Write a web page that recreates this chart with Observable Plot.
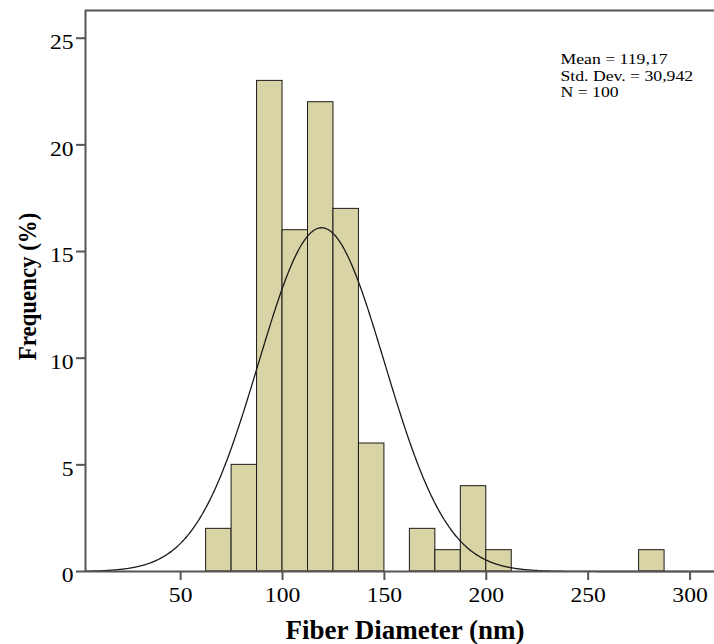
<!DOCTYPE html>
<html>
<head>
<meta charset="utf-8">
<script src="https://cdn.jsdelivr.net/npm/d3@7"></script>
<script src="https://cdn.jsdelivr.net/npm/@observablehq/plot@0.6"></script>
<style>
  html, body { margin: 0; padding: 0; background: #fff; }
  #chart svg { display: block; }
</style>
</head>
<body>
<div id="chart"></div>
<script>
// Histogram bins (lower edges, nm) and frequencies (%)
const binLower = [62.5, 75, 87.5, 100, 112.5, 125, 137.5, 162.5, 175, 187.5, 200, 275];
const freq     = [2,    5,  23,   16,  22,    17,  6,     2,     1,   4,     1,   1];
const binWidth = 12.5;
const xTicks = [50, 100, 150, 200, 250, 300];
const yTicks = [0, 5, 10, 15, 20, 25];
const mean = 119.17;
const sd = 30.942;
const n = 100;
const statsText = "Mean = 119,17\nStd. Dev. = 30,942\nN = 100";
const xTitle = "Fiber Diameter (nm)";
const yTitle = "Frequency (%)";

const bars = binLower.map((b, i) => ({x1: b, x2: b + binWidth, y: freq[i]}));

// Fitted normal curve from the stated mean / SD, scaled to the bin counts
const xMin = 3.3, xMax = 312;
const curve = d3.range(xMin, xMax, 0.5).map(x => ({
  x,
  y: n * binWidth / (sd * Math.sqrt(2 * Math.PI)) * Math.exp(-0.5 * ((x - mean) / sd) ** 2)
}));

const axisColor = "#555";

const chart = Plot.plot({
  width: 714,
  height: 644,
  marginLeft: 85,
  marginRight: 0,
  marginTop: 10,
  marginBottom: 73,
  style: {fontFamily: "'Liberation Serif', 'Times New Roman', serif", background: "#fff", color: "#000"},
  x: {domain: [xMin, xMax]},
  y: {domain: [0, 26.3]},
  marks: [
    Plot.rectY(bars, {x1: "x1", x2: "x2", y: "y", fill: "#d9d4a6", stroke: "#1a1a1a", strokeWidth: 1, inset: 0}),
    Plot.line(curve, {x: "x", y: "y", stroke: "#1a1a1a", strokeWidth: 1.3, curve: "basis"}),
    Plot.ruleY([0], {stroke: axisColor, strokeWidth: 2}),
    Plot.ruleY([26.3], {stroke: axisColor, strokeWidth: 2}),
    Plot.ruleX([xMin], {stroke: axisColor, strokeWidth: 2}),
    Plot.axisX({ticks: xTicks, tickSize: 9, tickPadding: 7, fontSize: 20, label: null, stroke: axisColor, strokeWidth: 2}),
    Plot.axisY({ticks: yTicks, tickSize: 9, tickPadding: 3, fontSize: 20, label: null, stroke: axisColor, strokeWidth: 2}),
    Plot.text([xTitle], {frameAnchor: "bottom", dx: 5, dy: 67, lineAnchor: "bottom", textAnchor: "middle", fontSize: 27, fontWeight: "bold"}),
    Plot.text([yTitle], {frameAnchor: "left", dx: -58, dy: -4.5, rotate: -90, textAnchor: "middle", lineAnchor: "middle", fontSize: 26, fontWeight: "bold"}),
    Plot.text([statsText], {frameAnchor: "top-left", dx: 475, dy: 42, textAnchor: "start", lineAnchor: "top", fontSize: 15, lineHeight: 1.1})
  ]
});

// Match the reference's text proportions (horizontally stretched small text)
const svg = d3.select(chart);
const appendTransform = (sel, t) => sel.attr("transform", function () {
  return (this.getAttribute("transform") || "") + " " + t;
});
appendTransform(svg.selectAll('g[aria-label="x-axis tick label"] text'), "scale(1.18,1)");
appendTransform(svg.selectAll('g[aria-label="y-axis tick label"] text'), "translate(0,4.5) scale(1.18,1)");
svg.selectAll("text").each(function () {
  const t = this.textContent;
  if (t.startsWith("Mean")) appendTransform(d3.select(this), "scale(1.18,1)");
  if (t === yTitle) appendTransform(d3.select(this), "scale(0.88,1)");
});

document.getElementById("chart").append(chart);
</script>
</body>
</html>
